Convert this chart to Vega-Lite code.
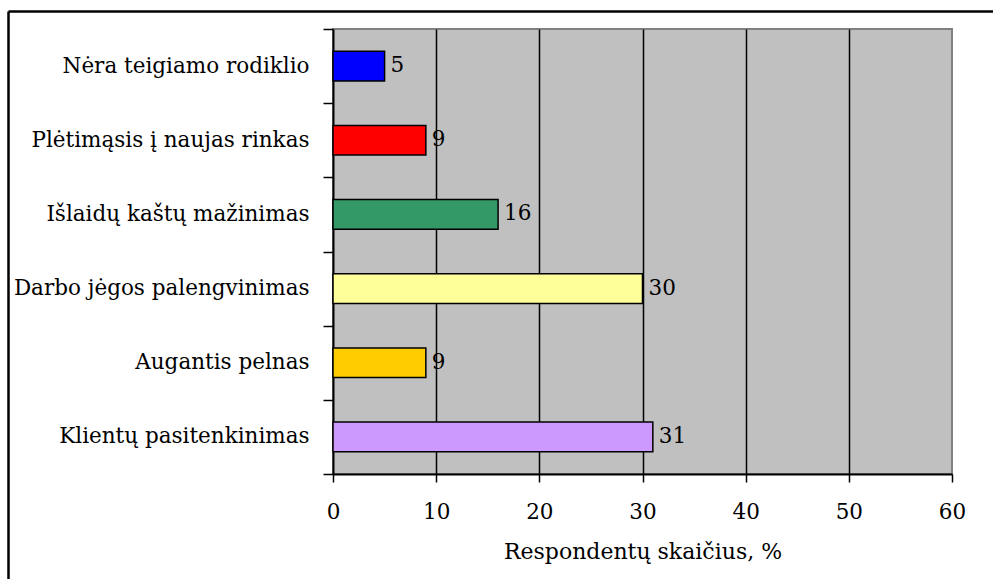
{
  "$schema": "https://vega.github.io/schema/vega-lite/v6.json",
  "width": 619,
  "height": 445,
  "autosize": "none",
  "padding": {"left": 333, "top": 29, "right": 41, "bottom": 105},
  "background": "white",
  "config": {
    "view": {"fill": "#C0C0C0", "stroke": "#808080", "strokeWidth": 2},
    "axis": {"labelFont": "DejaVu Serif", "titleFont": "DejaVu Serif", "labelColor": "black", "titleColor": "black"}
  },
  "data": {
    "values": [
      {"category": "Nėra teigiamo rodiklio", "value": 5},
      {"category": "Plėtimąsis į naujas rinkas", "value": 9},
      {"category": "Išlaidų kaštų mažinimas", "value": 16},
      {"category": "Darbo jėgos palengvinimas", "value": 30},
      {"category": "Augantis pelnas", "value": 9},
      {"category": "Klientų pasitenkinimas", "value": 31}
    ]
  },
  "layer": [
    {
      "encoding": {
        "y": {
          "field": "category",
          "type": "nominal",
          "sort": null,
          "scale": {"paddingInner": 0, "paddingOuter": 0},
          "axis": {
            "tickBand": "extent",
            "domainColor": "black",
            "domainWidth": 2,
            "tickColor": "black",
            "tickSize": 10,
            "tickWidth": 1.5,
            "labelFontSize": 21.5,
            "labelPadding": 14,
            "labelLimit": 400,
            "grid": false,
            "title": null
          }
        },
        "x": {
          "field": "value",
          "type": "quantitative",
          "scale": {"domain": [0, 60], "nice": false},
          "axis": {
            "values": [0, 10, 20, 30, 40, 50, 60],
            "domainColor": "black",
            "domainWidth": 2,
            "tickColor": "black",
            "tickSize": 8,
            "tickWidth": 1.5,
            "labelFontSize": 21.5,
            "labelPadding": 19,
            "labelFlush": false,
            "grid": true,
            "gridColor": {"condition": {"test": "datum.value === 0 || datum.value === 60", "value": "transparent"}, "value": "black"},
            "gridWidth": 1.5,
            "title": "Respondentų skaičius, %",
            "titleFontSize": 22,
            "titleFontWeight": "normal",
            "titlePadding": 19
          }
        }
      },
      "layer": [
        {
          "mark": {"type": "bar", "height": {"band": 0.4}, "stroke": "black", "strokeWidth": 1.5},
          "encoding": {
            "color": {
              "field": "category",
              "type": "nominal",
              "legend": null,
              "scale": {
                "domain": ["Nėra teigiamo rodiklio", "Plėtimąsis į naujas rinkas", "Išlaidų kaštų mažinimas", "Darbo jėgos palengvinimas", "Augantis pelnas", "Klientų pasitenkinimas"],
                "range": ["#0000FF", "#FF0000", "#339966", "#FFFF99", "#FFCC00", "#CC99FF"]
              }
            }
          }
        },
        {
          "mark": {"type": "text", "align": "left", "baseline": "middle", "dx": 6, "font": "DejaVu Serif", "fontSize": 21.5, "color": "black"},
          "encoding": {"text": {"field": "value", "type": "quantitative"}}
        }
      ]
    },
    {
      "mark": {"type": "point", "opacity": 0, "size": 0},
      "encoding": {
        "x": {
          "field": "value",
          "type": "quantitative",
          "scale": {"domain": [0, 1], "range": [-325, 680], "nice": false, "zero": false},
          "axis": {"orient": "top", "offset": 18, "domainColor": "black", "domainWidth": 2.5, "labels": false, "ticks": false, "grid": false, "title": null}
        },
        "y": {
          "field": "value",
          "type": "quantitative",
          "scale": {"domain": [0, 1], "range": [-18, 600], "nice": false, "zero": false},
          "axis": {"orient": "right", "offset": -944, "domainColor": "black", "domainWidth": 2.5, "labels": false, "ticks": false, "grid": false, "title": null}
        }
      }
    }
  ],
  "resolve": {"scale": {"x": "independent", "y": "independent"}, "axis": {"x": "independent", "y": "independent"}}
}
